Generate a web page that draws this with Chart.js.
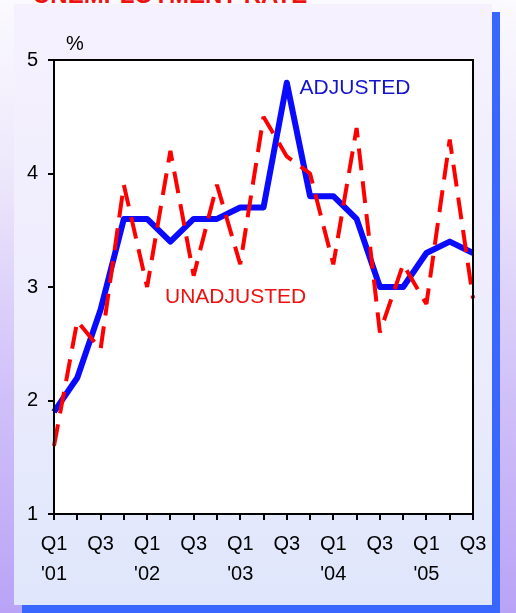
<!DOCTYPE html>
<html>
<head>
<meta charset="utf-8">
<script src="https://cdn.jsdelivr.net/npm/chart.js@4"></script>
<style>
  html, body { margin: 0; padding: 0; }
  body {
    width: 516px; height: 613px; position: relative; overflow: hidden;
    background: linear-gradient(to bottom, #fbfafe 0%, #ece6fb 30%, #d3c4f9 60%, #b9a3f6 100%);
    font-family: "Liberation Sans", Arial, sans-serif;
  }
  #title {
    position: absolute; left: 33px; top: -17px; font-size: 24px; line-height: 24px;
    font-weight: bold; color: #ee1111; white-space: nowrap;
  }
  #shadow { position: absolute; left: 22px; top: 12px; width: 478px; height: 601px; background: #3866ff; }
  #panel {
    position: absolute; left: 14px; top: 4px; width: 478px; height: 601px;
    background: linear-gradient(to bottom, #f6f1fe 0%, #eeedfd 50%, #dfe6fb 100%);
  }
  canvas { position: absolute; left: 0; top: 0; }
</style>
</head>
<body>
<div id="title">UNEMPLOYMENT RATE</div>
<div id="shadow"></div>
<div id="panel"></div>
<canvas id="c" width="516" height="613"></canvas>
<script>
// ---- data ----
const quarters = ['Q1','Q2','Q3','Q4','Q1','Q2','Q3','Q4','Q1','Q2','Q3','Q4','Q1','Q2','Q3','Q4','Q1','Q2','Q3'];
const years    = ["'01","'01","'01","'01","'02","'02","'02","'02","'03","'03","'03","'03","'04","'04","'04","'04","'05","'05","'05"];
const adjusted   = [1.9, 2.2, 2.8, 3.6, 3.6, 3.4, 3.6, 3.6, 3.7, 3.7, 4.8, 3.8, 3.8, 3.6, 3.0, 3.0, 3.3, 3.4, 3.3];
const unadjusted = [1.6, 2.7, 2.45, 3.9, 3.0, 4.2, 3.1, 3.9, 3.2, 4.5, 4.15, 4.0, 3.2, 4.4, 2.6, 3.2, 2.85, 4.3, 2.9];
const yTicks = [1, 2, 3, 4, 5];
const seriesNames = ['ADJUSTED', 'UNADJUSTED'];
const unitLabel = '%';

const categories = quarters.map((q, i) => q + ' ' + years[i]);
const FONT = '"Liberation Sans", Arial, sans-serif';

const frame = {
  id: 'frame',
  beforeDatasetsDraw(chart) {
    const a = chart.chartArea, ctx = chart.ctx;
    ctx.save();
    ctx.fillStyle = '#ffffff';
    ctx.fillRect(a.left, a.top, a.right - a.left, a.bottom - a.top);
    ctx.restore();
  },
  afterDatasetsDraw(chart) {
    const a = chart.chartArea, ctx = chart.ctx;
    const xs = chart.scales.x, ys = chart.scales.y;
    ctx.save();
    ctx.strokeStyle = '#000';
    ctx.lineWidth = 2;
    ctx.strokeRect(a.left, a.top, a.right - a.left, a.bottom - a.top);
    ctx.textBaseline = 'middle';
    ctx.textAlign = 'left';
    ctx.font = '21px ' + FONT;
    ctx.fillStyle = '#1414cc';
    ctx.fillText(seriesNames[0], xs.getPixelForValue(10.55), ys.getPixelForValue(4.75));
    ctx.fillStyle = '#ee1111';
    ctx.fillText(seriesNames[1], xs.getPixelForValue(4.77), ys.getPixelForValue(2.91));
    ctx.fillStyle = '#000';
    ctx.font = '20px ' + FONT;
    ctx.fillText(unitLabel, a.left + 12, a.top - 16);
    ctx.restore();
  }
};

new Chart(document.getElementById('c'), {
  type: 'line',
  data: {
    labels: categories,
    datasets: [
      {
        label: seriesNames[1], data: unadjusted, borderColor: '#ff0000', borderWidth: 4,
        borderDash: [22, 11], borderCapStyle: 'butt', borderJoinStyle: 'bevel',
        pointRadius: 0, tension: 0, fill: false
      },
      {
        label: seriesNames[0], data: adjusted, borderColor: '#0a0aff', borderWidth: 6,
        borderJoinStyle: 'round', pointRadius: 0, tension: 0, fill: false
      }
    ]
  },
  options: {
    responsive: false,
    animation: false,
    devicePixelRatio: 1,
    layout: { padding: { top: 60, right: 43, left: 0, bottom: 0 } },
    plugins: { legend: { display: false }, tooltip: { enabled: false } },
    scales: {
      x: {
        type: 'category',
        offset: false,
        grid: { display: true, offset: false, drawOnChartArea: false, drawTicks: true, tickLength: 6, color: '#000', lineWidth: 2 },
        border: { display: true, color: '#000', width: 2 },
        ticks: {
          autoSkip: false, maxRotation: 0, minRotation: 0, padding: 9,
          color: '#000', font: { size: 20, family: FONT, lineHeight: 1.5 },
          callback: (v, i) => (i % 2 ? '' : (quarters[i] === 'Q1' ? [quarters[i], years[i]] : quarters[i]))
        },
        afterFit: (s) => { s.height = 99; }
      },
      y: {
        min: yTicks[0], max: yTicks[yTicks.length - 1],
        afterBuildTicks: (s) => { s.ticks = yTicks.map(v => ({ value: v })); },
        grid: { display: true, drawOnChartArea: false, drawTicks: true, tickLength: 6, color: '#000', lineWidth: 2 },
        border: { display: true, color: '#000', width: 2 },
        ticks: { padding: 10, color: '#000', font: { size: 20, family: FONT } },
        afterFit: (s) => { s.width = 54; }
      }
    }
  },
  plugins: [frame]
});
</script>
</body>
</html>
